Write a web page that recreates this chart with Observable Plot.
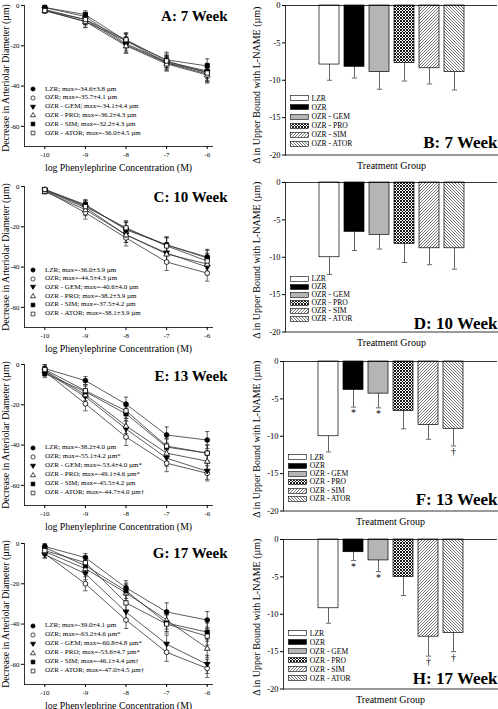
<!DOCTYPE html>
<html>
<head>
<meta charset="utf-8">
<script src="https://cdn.jsdelivr.net/npm/d3@7"></script>
<script src="https://cdn.jsdelivr.net/npm/@observablehq/plot@0.6"></script>
<style>
html,body{margin:0;padding:0;background:#fff;}
#root{position:relative;width:498px;height:709px;overflow:hidden;font-family:"Liberation Serif","Times New Roman",serif;color:#000;background:#fff;}
.lg{position:absolute;display:flex;align-items:center;white-space:nowrap;line-height:1;font-family:"Liberation Serif","Times New Roman",serif;}
</style>
</head>
<body>
<div id="root">
<svg width="0" height="0" style="position:absolute;left:0;top:0">
  <defs>
    <pattern id="pPro" patternUnits="userSpaceOnUse" width="3" height="3">
      <rect width="3" height="3" fill="#fff"/>
      <path d="M0,0L3,3M3,0L0,3" stroke="#000" stroke-width="0.9"/>
    </pattern>
    <pattern id="pSim" patternUnits="userSpaceOnUse" width="3" height="3">
      <rect width="3" height="3" fill="#fff"/>
      <path d="M-1,1L1,-1M0,3L3,0M2,4L4,2" stroke="#000" stroke-width="0.55"/>
    </pattern>
    <pattern id="pAtor" patternUnits="userSpaceOnUse" width="3" height="3">
      <rect width="3" height="3" fill="#fff"/>
      <path d="M-1,2L1,4M0,0L3,3M2,-1L4,1" stroke="#000" stroke-width="0.55"/>
    </pattern>
  </defs>
</svg>
</div>
<script>
// ---------------- data ----------------
const concentrations = [-10, -9, -8, -7, -6];
const groups = ["LZR", "OZR", "OZR - GEM", "OZR - PRO", "OZR - SIM", "OZR - ATOR"];
const leftTitles = ["A: 7 Week", "C: 10 Week", "E: 13 Week", "G: 17 Week"];
const rightTitles = ["B: 7 Week", "D: 10 Week", "F: 13 Week", "H: 17 Week"];
const xTicks = [-10, -9, -8, -7, -6];
const lineYTicks = [0, -20, -40, -60];
const barYTicks = [0, -5, -10, -15, -20];
const lineXLabel = "log Phenylephrine Concentration (M)";
const lineYLabel = "Decrease in Arteriolar Diameter (µm)";
const barXLabel = "Treatment Group";
const barYLabel = "Δ in Upper Bound with L-NAME (µm)";

// 7 week
const wk7Means = [
  [-1.0, -5.5, -19.0, -28.0, -32.5],
  [-2.5, -8.0, -17.5, -28.5, -34.0],
  [-2.0, -7.0, -19.5, -28.5, -33.0],
  [-2.5, -8.0, -20.0, -29.0, -34.5],
  [-1.0, -4.5, -17.5, -27.0, -30.0],
  [-2.5, -7.0, -17.0, -27.5, -33.5]
];
const wk7Errs = [
  [1.0, 2.0, 3.5, 3.0, 3.8],
  [1.2, 2.8, 3.5, 3.5, 4.0],
  [1.0, 2.5, 3.8, 3.5, 4.2],
  [1.2, 3.0, 3.8, 3.6, 4.0],
  [1.0, 1.8, 3.2, 3.8, 3.5],
  [1.2, 2.6, 3.5, 3.4, 4.3]
];
const wk7Legend = ["LZR; max=-34.6±3.8 µm", "OZR; max=-35.7±4.1 µm", "OZR - GEM; max=-34.1±4.4 µm", "OZR - PRO; max=-36.2±4.3 µm", "OZR - SIM; max=-32.2±4.3 µm", "OZR - ATOR; max=-36.0±4.5 µm"];
const wk7Bars = [-7.9, -8.2, -8.9, -7.7, -8.4, -8.9];
const wk7BarErrs = [2.1, 1.5, 2.3, 2.4, 2.1, 2.4];
const wk7Notes = ["", "", "", "", "", ""];

// 10 week
const wk10Means = [
  [-1.5, -9.5, -21.0, -29.0, -35.0],
  [-2.0, -13.0, -25.5, -37.5, -43.0],
  [-2.0, -10.5, -24.0, -33.0, -40.0],
  [-2.5, -11.5, -24.0, -33.5, -38.5],
  [-1.5, -9.0, -21.5, -29.0, -35.5],
  [-1.5, -10.0, -20.5, -29.5, -37.0]
];
const wk10Errs = [
  [1.0, 2.5, 3.5, 3.8, 3.8],
  [1.2, 3.2, 4.0, 4.2, 4.0],
  [1.0, 2.8, 3.8, 4.0, 3.8],
  [1.2, 3.0, 3.8, 3.8, 3.6],
  [1.0, 2.5, 3.6, 4.0, 3.8],
  [1.0, 2.8, 3.5, 4.0, 3.8]
];
const wk10Legend = ["LZR; max=-36.0±3.9 µm", "OZR; max=-44.5±4.3 µm", "OZR - GEM; max=-40.6±4.0 µm", "OZR - PRO; max=-38.2±3.9 µm", "OZR - SIM; max=-37.5±4.2 µm", "OZR - ATOR; max=-38.1±3.9 µm"];
const wk10Bars = [-10.0, -6.6, -7.0, -8.2, -8.8, -8.8];
const wk10BarErrs = [2.3, 2.5, 1.9, 2.5, 2.2, 2.8];
const wk10Notes = ["", "", "", "", "", ""];

// 13 week
const wk13Means = [
  [-2.0, -8.0, -19.7, -35.0, -37.5],
  [-3.5, -19.5, -36.0, -49.0, -54.0],
  [-3.5, -16.0, -32.0, -46.5, -53.0],
  [-3.0, -15.0, -30.5, -44.0, -48.0],
  [-4.5, -13.5, -24.5, -41.0, -44.0],
  [-2.5, -13.0, -23.0, -40.5, -44.0]
];
const wk13Errs = [
  [2.0, 2.0, 3.5, 4.0, 4.2],
  [2.2, 3.5, 4.2, 4.2, 3.8],
  [2.0, 3.2, 4.0, 4.0, 4.0],
  [2.0, 3.0, 3.8, 4.2, 4.5],
  [2.0, 2.8, 3.5, 4.0, 4.0],
  [2.2, 3.0, 3.8, 3.8, 4.0]
];
const wk13Legend = ["LZR; max=-38.2±4.0 µm", "OZR; max=-55.1±4.2 µm*", "OZR - GEM; max=-53.4±4.0 µm*", "OZR - PRO; max=-49.1±4.6 µm*", "OZR - SIM; max=-45.5±4.2 µm", "OZR - ATOR; max=-44.7±4.0 µm†"];
const wk13Bars = [-10.0, -3.8, -4.3, -6.6, -8.5, -9.0];
const wk13BarErrs = [2.1, 2.3, 1.9, 2.4, 1.9, 2.3];
const wk13Notes = ["", "*", "*", "", "", "†"];

// 17 week
const wk17Means = [
  [-1.5, -7.0, -22.0, -34.0, -38.0],
  [-5.0, -20.0, -38.0, -54.0, -62.0],
  [-5.5, -15.0, -34.0, -50.0, -60.0],
  [-4.0, -12.5, -24.5, -38.0, -52.0],
  [-2.0, -11.0, -23.5, -39.5, -44.0],
  [-3.5, -9.5, -29.5, -40.0, -46.0]
];
const wk17Errs = [
  [1.5, 2.0, 3.5, 4.5, 4.2],
  [2.0, 3.5, 4.2, 4.5, 4.5],
  [1.8, 3.0, 4.0, 4.5, 4.5],
  [1.8, 2.8, 4.0, 4.5, 4.5],
  [1.5, 2.5, 3.8, 4.2, 4.5],
  [1.8, 3.2, 4.0, 4.5, 4.5]
];
const wk17Legend = ["LZR; max=-39.0±4.1 µm", "OZR; max=-63.2±4.6 µm*", "OZR - GEM; max=-60.8±4.8 µm*", "OZR - PRO; max=-53.6±4.7 µm*", "OZR - SIM; max=-46.1±4.4 µm†", "OZR - ATOR; max=-47.0±4.5 µm†"];
const wk17Bars = [-9.2, -1.7, -2.8, -5.0, -13.0, -12.5];
const wk17BarErrs = [2.0, 1.1, 1.5, 2.5, 2.6, 2.5];
const wk17Notes = ["", "*", "*", "", "†", "†"];

// ---------------- styles & layout ----------------
const triangleDown = {draw(ctx, size) { const r = Math.sqrt(size / Math.PI); ctx.moveTo(0, 1.15 * r); ctx.lineTo(1.2 * r, -0.85 * r); ctx.lineTo(-1.2 * r, -0.85 * r); ctx.closePath(); }};
const triangleUp = {draw(ctx, size) { const r = Math.sqrt(size / Math.PI); ctx.moveTo(0, -1.15 * r); ctx.lineTo(1.2 * r, 0.85 * r); ctx.lineTo(-1.2 * r, 0.85 * r); ctx.closePath(); }};
const capSymbol = {draw(ctx, size) { const r = Math.sqrt(size / Math.PI); ctx.moveTo(-r, 0); ctx.lineTo(r, 0); }};
const markerShapes = [d3.symbolCircle, d3.symbolCircle, triangleDown, triangleUp, d3.symbolSquare, d3.symbolSquare];
const markerFills = ["#000", "#fff", "#000", "#fff", "#000", "#fff"];
const barFills = ["#fff", "#000", "#b5b5b5", "url(#pPro)", "url(#pSim)", "url(#pAtor)"];
const markerR = 2.4;

const leftTops = [5, 186, 364.3, 542.7];
const rightTops = [4.7, 182.3, 361, 539.3];
const rightMarginLeft = [35, 35, 33, 33];
const rightSvgLeft = 242;
const leftTitleDy = [10.5, 10.5, 11.5, 9.5];
const rightTitleDy = [-12, -8.5, -11, -10];
const leftYLabelDy = [2, 0, 0, 0];
const rightYLabelDy = [5, 3, 3, 3];
const lineLegendTop = [89, 270, 447.7, 625.7];
const lineLegendStep = [8.8, 8.7, 9, 9];
const barLegendTop = [98.3, 279, 457.3, 633.3];
const barLegendStep = [9.1, 7.9, 8.3, 9];
const barLegendLeft = [290, 290, 288.3, 288.3];

const root = document.getElementById("root");
const FONT = "'Liberation Serif', 'Times New Roman', serif";

function place(svg, left, top) {
  svg.style.position = "absolute";
  svg.style.left = left + "px";
  svg.style.top = top + "px";
  root.appendChild(svg);
}

function linePanel(p, means, errs) {
  const rows = [];
  groups.forEach((g, s) => concentrations.forEach((c, k) => rows.push({g, s, c, m: means[s][k], e: errs[s][k]})));
  const marks = [
    Plot.ruleX(rows, {x: "c", y1: d => d.m - d.e, y2: d => d.m + d.e, stroke: "#222", strokeWidth: 0.7}),
    Plot.dot(rows, {x: "c", y: d => d.m - d.e, symbol: capSymbol, r: 2.2, fill: "none", stroke: "#222", strokeWidth: 0.7}),
    Plot.dot(rows, {x: "c", y: d => d.m + d.e, symbol: capSymbol, r: 2.2, fill: "none", stroke: "#222", strokeWidth: 0.7}),
    Plot.line(rows, {x: "c", y: "m", z: "g", stroke: "#333", strokeWidth: 0.8})
  ];
  groups.forEach((g, s) => marks.push(Plot.dot(rows.filter(d => d.s === s), {x: "c", y: "m", symbol: markerShapes[s], r: markerR, fill: markerFills[s], stroke: "#000", strokeWidth: 0.8})));
  marks.push(
    Plot.frame({anchor: "left", stroke: "#000", strokeWidth: 0.8}),
    Plot.frame({anchor: "bottom", stroke: "#000", strokeWidth: 0.8}),
    Plot.axisY({ticks: lineYTicks, tickSize: 3, tickPadding: 2, tickFormat: d => String(d), label: null, fontSize: 7, fontFamily: FONT}),
    Plot.axisX({ticks: xTicks, tickSize: 3, tickPadding: 2.5, tickFormat: d => String(d), label: null, fontSize: 7, fontFamily: FONT}),
    Plot.text([leftTitles[p]], {text: d => d, frameAnchor: "top-right", textAnchor: "end", dx: 15, dy: leftTitleDy[p], fontSize: 15, fontWeight: "bold", lineAnchor: "middle", fontFamily: FONT}),
    Plot.text([lineXLabel], {text: d => d, frameAnchor: "bottom", textAnchor: "middle", dy: 21, fontSize: 9.8, lineAnchor: "middle", fontFamily: FONT}),
    Plot.text([lineYLabel], {text: d => d, frameAnchor: "left", textAnchor: "middle", rotate: -90, dx: -18.5, dy: leftYLabelDy[p], fontSize: 9.8, lineAnchor: "middle", fontFamily: FONT})
  );
  const svg = Plot.plot({
    width: 242, height: 176,
    marginLeft: 24, marginRight: 30, marginTop: 5, marginBottom: 30,
    x: {domain: [-10.5, -5.87], axis: null},
    y: {domain: [-70, 0], axis: null},
    style: {fontFamily: FONT, fontSize: "7px", background: "transparent", overflow: "visible", color: "#000"},
    marks
  });
  place(svg, 0, leftTops[p] - 5);
}

function barPanel(p, values, errs, notes) {
  const rows = groups.map((g, s) => ({g, s, v: values[s], e: errs[s], n: notes[s], f: barFills[s]}));
  const ml = rightMarginLeft[p] + (250 - rightSvgLeft);
  const svg = Plot.plot({
    width: 498 - rightSvgLeft, height: 5 + 149.5 + 20,
    marginLeft: ml, marginRight: 1, marginTop: 5, marginBottom: 20,
    x: {domain: groups, paddingInner: 0.2, paddingOuter: 1.34, axis: null},
    y: {domain: [-20, 0], axis: null},
    color: {type: "identity"},
    style: {fontFamily: FONT, fontSize: "8px", background: "transparent", overflow: "visible", color: "#000"},
    marks: [
      Plot.ruleX(rows, {x: "g", y1: "v", y2: d => d.v - d.e, stroke: "#222", strokeWidth: 0.7}),
      Plot.dot(rows, {x: "g", y: d => d.v - d.e, symbol: capSymbol, r: 2.6, fill: "none", stroke: "#222", strokeWidth: 0.7}),
      Plot.barY(rows, {x: "g", y: "v", fill: "f", stroke: "#000", strokeWidth: 0.7}),
      Plot.ruleY([0], {stroke: "#000", strokeWidth: 0.8}),
      Plot.frame({anchor: "left", stroke: "#000", strokeWidth: 0.8}),
      Plot.frame({anchor: "bottom", stroke: "#000", strokeWidth: 0.8}),
      Plot.axisY({ticks: barYTicks, tickSize: 3, tickPadding: 2, tickFormat: d => String(d), label: null, fontSize: 8.5, fontFamily: FONT}),
      Plot.text(rows.filter(d => d.n), {x: "g", y: d => d.v - d.e, text: "n", dy: 2, lineAnchor: "top", fontSize: 10, fontFamily: FONT}),
      Plot.text([rightTitles[p]], {text: d => d, frameAnchor: "bottom-right", textAnchor: "end", dy: rightTitleDy[p], fontSize: 17, fontWeight: "bold", lineAnchor: "middle", fontFamily: FONT}),
      Plot.text([barXLabel], {text: d => d, frameAnchor: "bottom", textAnchor: "middle", dy: 11, fontSize: 10, lineAnchor: "middle", fontFamily: FONT}),
      Plot.text([barYLabel], {text: d => d, frameAnchor: "left", textAnchor: "middle", rotate: -90, dx: 256 - 250 - rightMarginLeft[p], dy: rightYLabelDy[p], fontSize: 10, lineAnchor: "middle", fontFamily: FONT})
    ]
  });
  place(svg, rightSvgLeft, rightTops[p] - 5);
}

function lineLegend(p, labels) {
  labels.forEach((lab, s) => {
    const div = document.createElement("div");
    div.className = "lg";
    div.style.left = (33 - 5) + "px";
    div.style.top = (lineLegendTop[p] + s * lineLegendStep[p] - 5) + "px";
    div.style.height = "10px";
    div.style.fontSize = "7px";
    const svg = d3.create("svg").attr("width", 10).attr("height", 10).style("margin-right", "7px").style("flex", "none");
    svg.append("path").attr("transform", "translate(5,5)")
      .attr("d", d3.symbol(markerShapes[s], Math.PI * 2.1 * 2.1)())
      .attr("fill", markerFills[s]).attr("stroke", "#000").attr("stroke-width", 0.7);
    div.appendChild(svg.node());
    div.appendChild(document.createTextNode(lab));
    root.appendChild(div);
  });
}

function barLegend(p) {
  groups.forEach((g, s) => {
    const div = document.createElement("div");
    div.className = "lg";
    div.style.left = barLegendLeft[p] + "px";
    div.style.top = (barLegendTop[p] + s * barLegendStep[p] - 5) + "px";
    div.style.height = "10px";
    div.style.fontSize = "7.6px";
    const svg = d3.create("svg").attr("width", 19).attr("height", 10).style("margin-right", "2.5px").style("flex", "none");
    svg.append("rect").attr("x", 0.5).attr("y", 2.6).attr("width", 18).attr("height", 4.8)
      .attr("fill", barFills[s]).attr("stroke", "#000").attr("stroke-width", 0.6);
    div.appendChild(svg.node());
    div.appendChild(document.createTextNode(g));
    root.appendChild(div);
  });
}

linePanel(0, wk7Means, wk7Errs);
linePanel(1, wk10Means, wk10Errs);
linePanel(2, wk13Means, wk13Errs);
linePanel(3, wk17Means, wk17Errs);
barPanel(0, wk7Bars, wk7BarErrs, wk7Notes);
barPanel(1, wk10Bars, wk10BarErrs, wk10Notes);
barPanel(2, wk13Bars, wk13BarErrs, wk13Notes);
barPanel(3, wk17Bars, wk17BarErrs, wk17Notes);
lineLegend(0, wk7Legend);
lineLegend(1, wk10Legend);
lineLegend(2, wk13Legend);
lineLegend(3, wk17Legend);
[0, 1, 2, 3].forEach(barLegend);
</script>
</body>
</html>
